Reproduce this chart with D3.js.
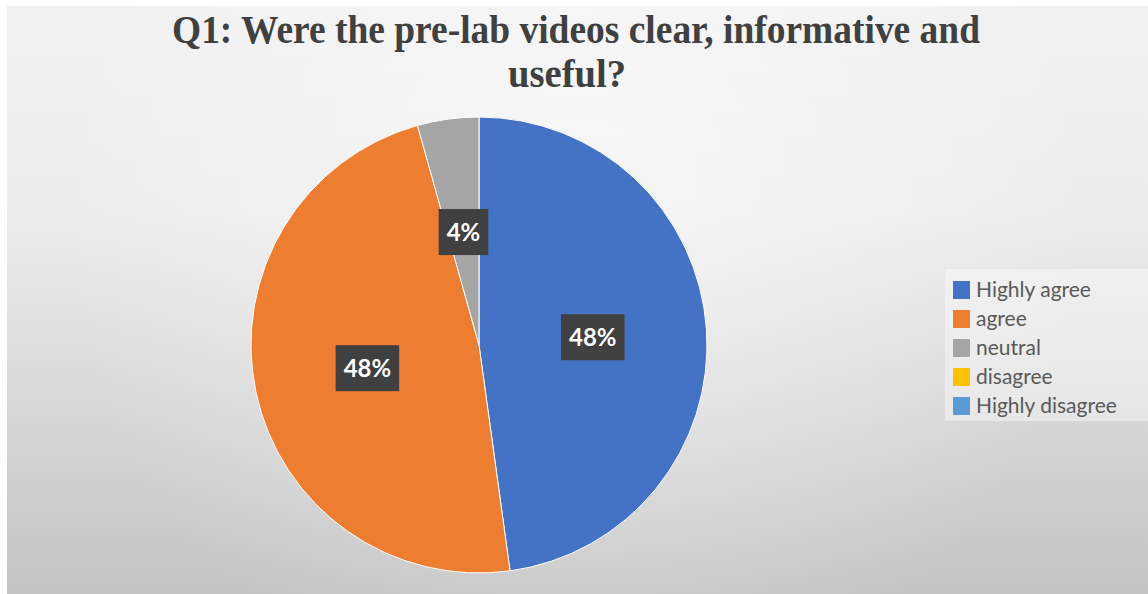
<!DOCTYPE html>
<html><head><meta charset="utf-8">
<script src="https://cdn.jsdelivr.net/npm/d3@7"></script>
<style>html,body{margin:0;padding:0;background:#fff;overflow:hidden}</style>
</head><body>
<svg id="chart" width="1148" height="594"></svg>
<script>
const titleLines = ["Q1: Were the pre-lab videos clear, informative and", "useful?"];
const categories = ["Highly agree", "agree", "neutral", "disagree", "Highly disagree"];
const counts = [11, 11, 1, 0, 0];
const colors = ["#4472C4", "#ED7D31", "#A5A5A5", "#FFC000", "#5B9BD5"];

const W = 1148, H = 594;
const svg = d3.select("#chart");
const defs = svg.append("defs");
const lg = defs.append("linearGradient").attr("id","bg").attr("x1",0).attr("y1",0).attr("x2",0).attr("y2",1);
lg.append("stop").attr("offset","0%").attr("stop-color","#f1f1f1");
lg.append("stop").attr("offset","35%").attr("stop-color","#ececec");
lg.append("stop").attr("offset","100%").attr("stop-color","#c3c3c3");
const rg = defs.append("radialGradient").attr("id","glow").attr("gradientUnits","userSpaceOnUse")
  .attr("cx",575).attr("cy",200).attr("r",520);
rg.append("stop").attr("offset","0%").attr("stop-color","#ffffff").attr("stop-opacity",0.55);
rg.append("stop").attr("offset","100%").attr("stop-color","#ffffff").attr("stop-opacity",0);

svg.append("rect").attr("x",7).attr("y",6).attr("width",W-7).attr("height",H-6).attr("fill","url(#bg)");
svg.append("rect").attr("x",7).attr("y",6).attr("width",W-7).attr("height",H-6).attr("fill","url(#glow)");

// Title
const title = svg.append("g");
title.append("text").attr("x",576).attr("y",43).attr("text-anchor","middle")
  .attr("font-family","'Liberation Serif','Times New Roman',serif").attr("font-weight","bold")
  .attr("font-size",39).attr("fill","#404040")
  .attr("textLength",808).attr("lengthAdjust","spacingAndGlyphs")
  .text(titleLines[0]);
title.append("text").attr("x",567).attr("y",87).attr("text-anchor","middle")
  .attr("font-family","'Liberation Serif','Times New Roman',serif").attr("font-weight","bold")
  .attr("font-size",39).attr("fill","#404040")
  .attr("textLength",118).attr("lengthAdjust","spacingAndGlyphs")
  .text(titleLines[1]);

// Pie
const cx = 479, cy = 345, R = 228;
const data = categories.map((c,i)=>({cat:c, value:counts[i], color:colors[i]}));
const pie = d3.pie().value(d=>d.value).sort(null);
const arcs = pie(data);
const arc = d3.arc().innerRadius(0).outerRadius(R);
const g = svg.append("g").attr("transform",`translate(${cx},${cy})`);
g.selectAll("path").data(arcs.filter(a=>a.data.value>0)).join("path")
  .attr("d",arc).attr("fill",d=>d.data.color).attr("stroke","#ffffff").attr("stroke-width",1);

const total = d3.sum(counts);
const fmt = v => Math.round(v/total*100) + "%";
const labels = g.selectAll("g.lbl").data(arcs.filter(a=>a.data.value>0)).join("g")
  .attr("class","lbl").attr("transform",d=>`translate(${arc.centroid(d)})`);
labels.each(function(d){
  const gg = d3.select(this);
  const t = gg.append("text").attr("text-anchor","middle").attr("dy","0.36em")
    .attr("font-family","Lato,'Open Sans',sans-serif").attr("font-weight","bold")
    .attr("font-size",24).attr("fill","#ffffff").text(fmt(d.data.value));
  const bb = t.node().getBBox();
  gg.insert("rect","text").attr("x",bb.x-8).attr("y",-23).attr("width",bb.width+16).attr("height",46)
    .attr("fill","#404040");
});

// Legend
const legend = svg.append("g");
legend.append("rect").attr("x",945).attr("y",269).attr("width",203).attr("height",152)
  .attr("fill","#ffffff").attr("opacity",0.4);
const ly = d3.scalePoint().domain(categories).range([290, 406]);
const items = legend.selectAll("g.item").data(data).join("g").attr("class","item")
  .attr("transform",d=>`translate(953,${ly(d.cat)})`);
items.append("rect").attr("x",0).attr("y",-9).attr("width",17).attr("height",18).attr("fill",d=>d.color);
items.append("text").attr("x",23).attr("dy","0.35em")
  .attr("font-family","Lato,'Open Sans',sans-serif").attr("font-size",21).attr("fill","#595959")
  .text(d=>d.cat);
</script>
</body></html>
